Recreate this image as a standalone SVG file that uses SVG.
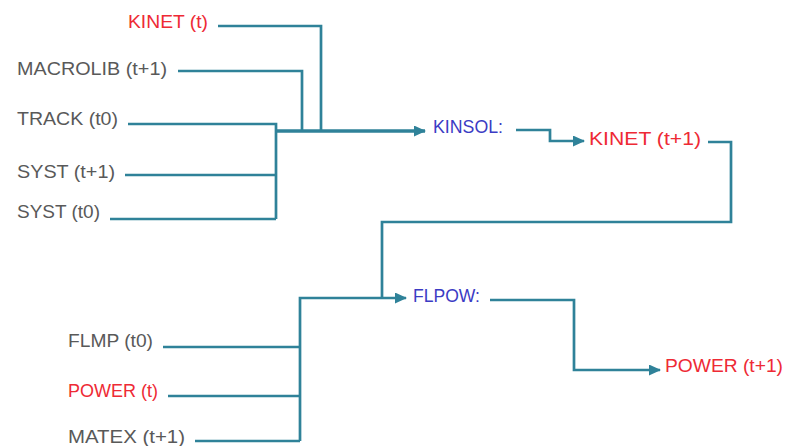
<svg xmlns="http://www.w3.org/2000/svg" width="785" height="446" viewBox="0 0 785 446">
<style>
text{font-family:"Liberation Sans","DejaVu Sans",sans-serif;font-size:17.5px}
.g{fill:#595959}.r{fill:#ee2a35}.b{fill:#3b3bc4}
.c{fill:none;stroke:#2f8299;stroke-width:2.7;stroke-linejoin:miter}
.m{stroke-width:3.5}
</style>
<defs>
<marker id="ah" markerWidth="12" markerHeight="11" refX="11" refY="5.5" orient="auto" markerUnits="userSpaceOnUse">
<path d="M0,0 L12,5.5 L0,11 Z" fill="#2f8299"/>
</marker>
</defs>
<g id="connectors">
<path class="c" d="M218,26 H321 V131"/>
<path class="c" d="M178,71 H302 V131"/>
<path class="c" d="M128,124 H276 V219"/>
<path class="c" d="M125,175 H276"/>
<path class="c" d="M110,219 H276"/>
<path class="c m" d="M276,131 H425" marker-end="url(#ah)"/>
<path class="c" d="M516,130 H550 V141 H584" marker-end="url(#ah)"/>
<path class="c" d="M708,142 H731 V222 H382 V298"/>
<path class="c" d="M300,441 V298 H406" marker-end="url(#ah)"/>
<path class="c" d="M163,347 H300"/>
<path class="c" d="M168,396 H300"/>
<path class="c" d="M195,441 H300"/>
<path class="c" d="M490,300 H574 V370 H660" marker-end="url(#ah)"/>
</g>
<g id="kinet_t"><text class="r" x="128" y="28" textLength="80" lengthAdjust="spacingAndGlyphs">KINET (t)</text></g>
<g id="macrolib"><text class="g" x="17" y="75" textLength="150" lengthAdjust="spacingAndGlyphs">MACROLIB (t+1)</text></g>
<g id="track"><text class="g" x="17" y="125" textLength="101" lengthAdjust="spacingAndGlyphs">TRACK (t0)</text></g>
<g id="syst_t1"><text class="g" x="17" y="178" textLength="98" lengthAdjust="spacingAndGlyphs">SYST (t+1)</text></g>
<g id="syst_t0"><text class="g" x="17" y="218" textLength="83" lengthAdjust="spacingAndGlyphs">SYST (t0)</text></g>
<g id="kinsol"><text class="b" x="433" y="133" textLength="70" lengthAdjust="spacingAndGlyphs">KINSOL:</text></g>
<g id="kinet_t1"><text class="r" x="589" y="145" textLength="112" lengthAdjust="spacingAndGlyphs">KINET (t+1)</text></g>
<g id="flpow"><text class="b" x="413" y="302" textLength="67" lengthAdjust="spacingAndGlyphs">FLPOW:</text></g>
<g id="power_t1"><text class="r" x="665" y="372" textLength="118" lengthAdjust="spacingAndGlyphs">POWER (t+1)</text></g>
<g id="flmp"><text class="g" x="68" y="347" textLength="85" lengthAdjust="spacingAndGlyphs">FLMP (t0)</text></g>
<g id="power_t"><text class="r" x="68" y="397" textLength="90" lengthAdjust="spacingAndGlyphs">POWER (t)</text></g>
<g id="matex"><text class="g" x="68" y="443" textLength="117" lengthAdjust="spacingAndGlyphs">MATEX (t+1)</text></g>
</svg>
